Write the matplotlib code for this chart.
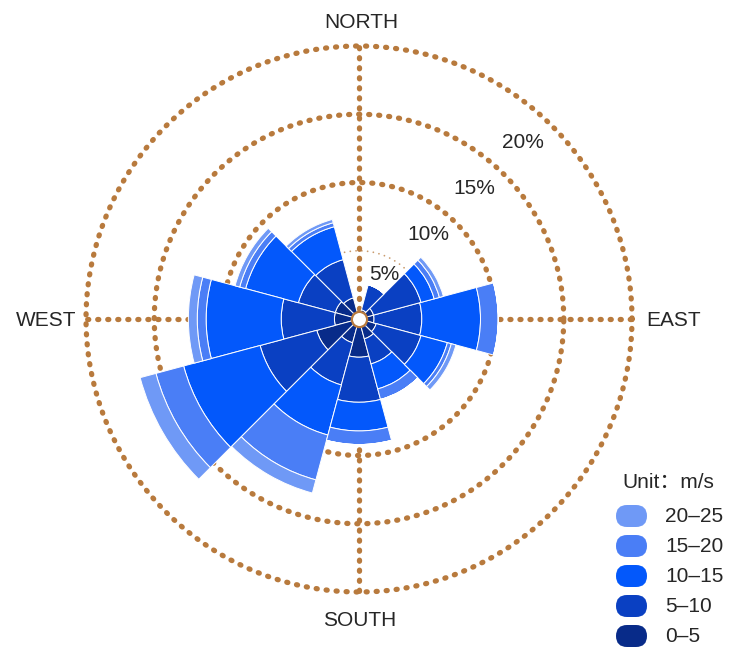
"""Wind rose: frequency (%) of wind direction split by speed class."""

import matplotlib

matplotlib.use("Agg")
import matplotlib.pyplot as plt
import numpy as np
from matplotlib.patches import FancyBboxPatch

# 12 sectors, math angle (0 = east, counter-clockwise)
sector_angles = [0, 30, 60, 90, 120, 150, 180, 210, 240, 270, 300, 330]

# frequency (%) per speed class, one value per sector
freq_0_5 = [1.1, 1.1, 0.7, 0.5, 1.6, 1.8, 1.8, 3.2, 1.8, 2.8, 1.5, 1.3]
freq_5_10 = [3.5, 3.6, 1.9, 0.0, 2.9, 2.8, 3.9, 4.3, 3.2, 3.3, 1.9, 3.4]
freq_10_15 = [4.3, 1.0, 0.0, 0.0, 2.5, 4.0, 5.5, 5.8, 3.8, 2.1, 1.9, 2.0]
freq_15_20 = [1.3, 0.4, 0.0, 0.0, 0.3, 0.45, 0.65, 2.1, 3.4, 1.0, 0.8, 0.3]
freq_20_25 = [0.0, 0.3, 0.0, 0.0, 0.25, 0.35, 0.65, 1.2, 1.0, 0.0, 0.0, 0.35]

speed_labels = ["0–5", "5–10", "10–15", "15–20", "20–25"]
speed_colors = ["#082b89", "#0a40c2", "#0358fb", "#4a7ef6", "#6f99f6"]

ring_values = [10, 15, 20]
ring_labels = ["5%", "10%", "15%", "20%"]
compass_labels = ["NORTH", "SOUTH", "WEST", "EAST"]

BROWN = "#b87a3d"
FONT = "Liberation Sans"
W_PX, H_PX = 732, 658
CX, CY, R_PX = 359, 319, 273   # centre and radius of the 20% ring in pixels


def main() -> None:
    fig = plt.figure(figsize=(W_PX / 100, H_PX / 100), dpi=100)
    ax = fig.add_axes(
        [(CX - R_PX) / W_PX, (H_PX - CY - R_PX) / H_PX, 2 * R_PX / W_PX, 2 * R_PX / H_PX],
        projection="polar",
    )
    ax.set_ylim(0, 20)
    ax.grid(False)
    ax.set_xticks([])
    ax.set_yticks([])
    ax.spines["polar"].set_visible(False)

    # dotted rings and cross (beneath the bars)
    full = np.linspace(0, 2 * np.pi, 600)
    dots = dict(color=BROWN, lw=3.8, ls=(0, (0.2, 1.7)), dash_capstyle="round",
                zorder=1, clip_on=False)
    for r in ring_values:
        ax.plot(full, np.full_like(full, r), **dots)
    for a in (0, np.pi / 2, np.pi, 3 * np.pi / 2):
        ax.plot([a, a], [0, 20], **dots)
    ax.plot(full, np.full_like(full, 5), color=BROWN, lw=1.3,
            ls=(0, (0.01, 3.2)), dash_capstyle="round", alpha=0.75, zorder=1)

    theta = np.deg2rad(sector_angles)
    width = np.deg2rad(30)
    bottom = np.zeros(len(theta))
    for vals, col in zip([freq_0_5, freq_5_10, freq_10_15, freq_15_20, freq_20_25], speed_colors):
        vals = np.asarray(vals)
        ax.bar(theta, vals, width=width, bottom=bottom, color=col,
               edgecolor="white", linewidth=0.7, zorder=3)
        bottom = bottom + vals

    ax.scatter([0], [0], s=120, c="white", edgecolors=BROWN, linewidths=1.6, zorder=6)

    # overlay in pixel coordinates for the text and legend
    ov = fig.add_axes([0, 0, 1, 1])
    ov.set_xlim(0, W_PX)
    ov.set_ylim(H_PX, 0)
    ov.axis("off")

    txt = dict(fontsize=15, color="#262626", family=FONT, ha="center", va="center")
    for label, (x, y) in zip(compass_labels, [(361, 22), (360, 620), (46, 321), (674, 321)]):
        ov.text(x, y, label, **txt)
    for label, (x, y) in zip(ring_labels, [(384, 274), (428, 235), (474, 189), (523, 142)]):
        ov.text(x, y, label, **txt)

    ov.text(622, 482, "Unit：m/s", fontsize=15, color="#262626",
            family=[FONT, "Noto Sans CJK SC"], ha="left", va="center")
    for i, (label, col) in enumerate(zip(speed_labels[::-1], speed_colors[::-1])):
        y = 516 + 30 * i
        ov.add_patch(FancyBboxPatch((620, y - 7), 23, 14, boxstyle="round,pad=4,rounding_size=11",
                                    facecolor=col, edgecolor="none"))
        ov.text(665, y, label, fontsize=15, color="#262626", family=FONT,
                ha="left", va="center")

    fig.savefig("out.png", dpi=100)
    plt.close(fig)


if __name__ == "__main__":
    main()
